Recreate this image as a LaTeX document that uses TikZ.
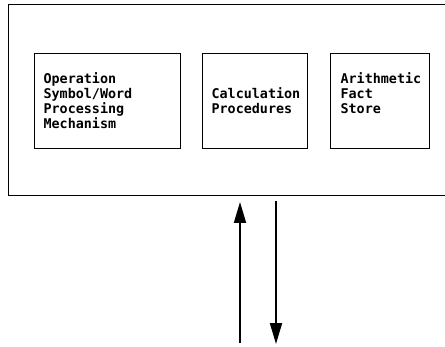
\documentclass[tikz,border=0pt]{standalone}
\usepackage{fontspec}
\setmonofont{DejaVu Sans Mono}
\usetikzlibrary{arrows.meta}
\tikzset{
  outerbox/.style={draw, line width=1.4pt, inner sep=0pt, anchor=north west},
  modbox/.style={draw, line width=1.1pt, anchor=north west, minimum height=95pt,
    inner ysep=0pt, align=left, font=\ttfamily\bfseries\fontsize{13.4pt}{15pt}\selectfont},
  flow/.style={line width=1.8pt, -{Triangle[length=21pt,width=12pt]}}
}
\begin{document}
\begin{tikzpicture}[x=1pt,y=1pt]
\useasboundingbox (0,0) rectangle (445,346);
\node[outerbox, minimum width=447pt, minimum height=191pt] (outer) at (8,342) {};
\node[modbox, inner xsep=9pt, text width=128pt] (opsym) at (34,293)
  {Operation\\Symbol/Word\\Processing\\Mechanism};
\node[modbox, inner xsep=9pt, text width=87pt] (calc) at (202,293)
  {Calculation\\Procedures};
\node[modbox, inner xsep=10pt, text width=79pt] (fact) at (330,293)
  {Arithmetic\\Fact\\Store\\\mbox{}};
\coordinate (upfrom) at (240,3);
\coordinate (upto) at (240,144);
\coordinate (downfrom) at (276,145);
\coordinate (downto) at (276,2);
\draw[flow] (upfrom) -- (upto);
\draw[flow] (downfrom) -- (downto);
\end{tikzpicture}
\end{document}
